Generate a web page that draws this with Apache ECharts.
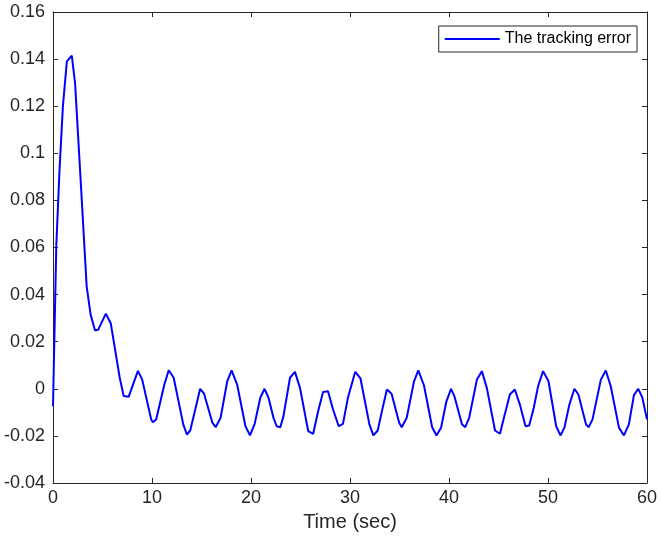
<!DOCTYPE html>
<html>
<head>
<meta charset="utf-8">
<script src="https://cdn.jsdelivr.net/npm/echarts@6/dist/echarts.min.js"></script>
<style>
  html, body { margin: 0; padding: 0; background: #fff; }
  #chart { width: 660px; height: 543px; }
</style>
</head>
<body>
<div id="chart"></div>
<script>
// vertices (variable step solver output)
var time = [0, 0.33, 0.66, 1.0, 1.4, 1.9, 2.23, 2.8, 3.4, 3.8, 4.24, 4.57, 5.34, 5.84, 6.74, 7.14, 7.64, 8.58, 9.01, 9.92,
    10.08, 10.42, 11.25, 11.69, 12.19, 13.16, 13.52, 13.86, 14.49, 14.86, 15.26, 16.1, 16.43, 16.93, 17.6, 18.04, 18.6, 19.44, 19.9,
    20.37, 20.94, 21.37, 21.77, 22.27, 22.6, 22.96, 23.28, 23.94, 24.44, 24.95, 25.78, 26.28, 26.78, 27.28, 27.78, 28.29, 28.86, 29.29, 29.79,
    30.53, 31.06, 31.96, 32.36, 32.8, 33.3, 33.73, 34.2, 34.97, 35.23, 35.73, 36.47, 36.9, 37.47, 38.3, 38.74, 39.2, 39.74,
    40.21, 40.54, 41.31, 41.64, 42.04, 42.82, 43.32, 43.82, 44.65, 45.15, 45.55, 46.15, 46.65, 47.16, 47.73, 48.1, 48.56, 49.0, 49.5,
    50.05, 50.83, 51.26, 51.66, 52.16, 52.67, 53.07, 53.84, 54.1, 54.5, 55.34, 55.84, 56.34, 57.17, 57.67, 58.17, 58.68, 59.12, 59.52, 60];
var trackErr = [-0.0074, 0.0605, 0.093, 0.1199, 0.139, 0.1415, 0.1298, 0.088, 0.0435, 0.0315, 0.0249, 0.0251, 0.0319, 0.0277, 0.0047, -0.0031, -0.0034, 0.0076, 0.0039, -0.013,
    -0.0142, -0.013, 0.0018, 0.0079, 0.0047, -0.0151, -0.0194, -0.0177, -0.0067, 0.0, -0.0021, -0.0144, -0.0163, -0.0123, 0.0032, 0.0078, 0.0018, -0.0159, -0.0198,
    -0.0149, -0.0038, 0.0, -0.0038, -0.0123, -0.0159, -0.0163, -0.0116, 0.0047, 0.0072, 0.0004, -0.018, -0.0191, -0.0095, -0.0014, -0.001, -0.0088, -0.0159, -0.0149, -0.0038,
    0.0072, 0.0044, -0.0151, -0.0198, -0.0177, -0.0081, -0.0003, -0.0021, -0.0144, -0.0163, -0.0123, 0.0032, 0.0078, 0.0015, -0.0163, -0.0198, -0.0165, -0.0053,
    0.0, -0.0031, -0.0151, -0.0163, -0.0123, 0.0039, 0.0075, 0.0004, -0.0177, -0.0191, -0.0123, -0.0024, -0.0003, -0.0067, -0.0159, -0.0156, -0.0081, 0.0011, 0.0075,
    0.0032, -0.0159, -0.0198, -0.0165, -0.0067, 0.0, -0.0024, -0.0151, -0.0163, -0.013, 0.0039, 0.0078, 0.0011, -0.0165, -0.0198, -0.0151, -0.0027, 0.0, -0.0036, -0.013];
var seriesName = 'The tracking error';
var xName = 'Time (sec)';

var pts = [];
for (var i = 0; i < time.length; i++) {
    pts.push([time[i], trackErr[i]]);
}

var axisCol = '#262626';
var font = 'Liberation Sans, Arial, sans-serif';

var chart = echarts.init(document.getElementById('chart'));
var option = {
    animation: false,
    grid: { left: 53, right: 8, top: 12, bottom: 60, containLabel: false },
    legend: {
        data: [{ name: seriesName, icon: 'rect' }],
        right: 23,
        top: 26,
        itemWidth: 55,
        itemHeight: 2,
        padding: [5, 6, 5, 6],
        borderColor: axisCol,
        borderWidth: 1,
        borderRadius: 0,
        backgroundColor: '#fff',
        textStyle: { fontFamily: font, fontSize: 16, color: '#000' }
    },
    xAxis: [{
        type: 'value',
        min: 0, max: 60, interval: 10,
        name: xName,
        nameLocation: 'middle',
        nameGap: 29,
        nameTextStyle: { fontFamily: font, fontSize: 20, color: axisCol },
        axisLine: { onZero: false, lineStyle: { color: axisCol, width: 1 } },
        axisTick: { inside: true, length: 5, lineStyle: { color: axisCol } },
        axisLabel: { fontFamily: font, fontSize: 18, color: axisCol, margin: 6 },
        splitLine: { show: false }
    }, {
        type: 'value',
        position: 'top',
        min: 0, max: 60, interval: 10,
        axisLine: { show: true, onZero: false, lineStyle: { color: axisCol, width: 1 } },
        axisTick: { show: true, inside: true, length: 5, lineStyle: { color: axisCol } },
        axisLabel: { show: false },
        splitLine: { show: false }
    }],
    yAxis: [{
        type: 'value',
        min: -0.04, max: 0.16, interval: 0.02,
        axisLine: { show: true, onZero: false, lineStyle: { color: axisCol, width: 1 } },
        axisTick: { show: true, inside: true, length: 5, lineStyle: { color: axisCol } },
        axisLabel: {
            fontFamily: font, fontSize: 18, color: axisCol, margin: 8,
            formatter: function (v) { return String(parseFloat(v.toFixed(2))); }
        },
        splitLine: { show: false }
    }, {
        type: 'value',
        position: 'right',
        min: -0.04, max: 0.16, interval: 0.02,
        axisLine: { show: true, onZero: false, lineStyle: { color: axisCol, width: 1 } },
        axisTick: { show: true, inside: true, length: 5, lineStyle: { color: axisCol } },
        axisLabel: { show: false },
        splitLine: { show: false }
    }],
    series: [{
        name: seriesName,
        type: 'line',
        xAxisIndex: 0,
        yAxisIndex: 0,
        data: pts,
        symbol: 'none',
        color: '#0000ff',
        lineStyle: { color: '#0000ff', width: 2 }
    }]
};
chart.setOption(option);
</script>
</body>
</html>
